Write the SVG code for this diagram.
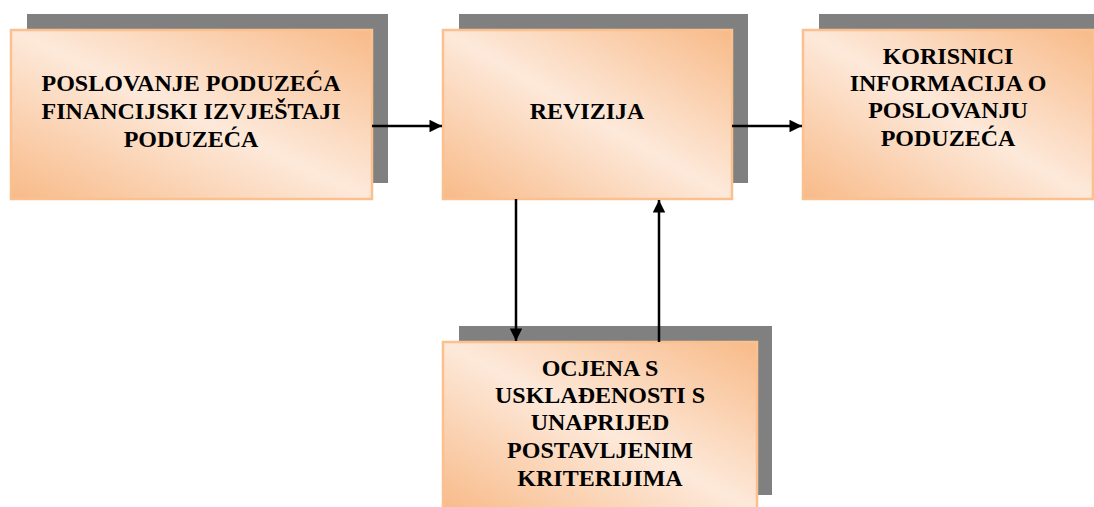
<svg xmlns="http://www.w3.org/2000/svg" width="1094" height="507" viewBox="0 0 1094 507">
<defs>
<linearGradient id="g" x1="0" y1="1" x2="1" y2="0">
<stop offset="0" stop-color="#F8BA88"/>
<stop offset="0.5" stop-color="#FDE9DA"/>
<stop offset="1" stop-color="#F8BA88"/>
</linearGradient>
<marker id="ah" viewBox="0 0 10 10" refX="10" refY="5" markerWidth="6" markerHeight="5" markerUnits="strokeWidth" orient="auto">
<path d="M0,0 L10,5 L0,10 z" fill="#000"/>
</marker>
<style>
.sh{fill:#808080}
.bx{fill:url(#g);stroke:#FAC090;stroke-width:2.5}
.t{font-family:"Times New Roman","Liberation Serif",serif;font-weight:bold;font-size:24px;fill:#000;text-anchor:middle}
.c{stroke:#000;stroke-width:2.5;fill:none;marker-end:url(#ah)}
</style>
</defs>
<g id="n1">
<rect class="sh" x="27" y="14" width="361" height="169"/>
<rect class="bx" x="11" y="30" width="361" height="169"/>
<text class="t"><tspan x="191" y="91">POSLOVANJE PODUZEĆA</tspan><tspan x="191" y="119">FINANCIJSKI IZVJEŠTAJI</tspan><tspan x="191" y="147">PODUZEĆA</tspan></text>
</g>
<g id="n2">
<rect class="sh" x="459" y="14" width="289" height="169"/>
<rect class="bx" x="443" y="30" width="289" height="169"/>
<text class="t" x="587" y="119">REVIZIJA</text>
</g>
<g id="n3">
<rect class="sh" x="819" y="14" width="280" height="169"/>
<rect class="bx" x="803" y="30" width="290" height="169"/>
<text class="t"><tspan x="948" y="64">KORISNICI</tspan><tspan x="948" y="91">INFORMACIJA O</tspan><tspan x="948" y="118">POSLOVANJU</tspan><tspan x="948" y="146">PODUZEĆA</tspan></text>
</g>
<g id="n4">
<rect class="sh" x="459" y="326" width="313" height="169"/>
<rect class="bx" x="443" y="342" width="314" height="170"/>
<text class="t"><tspan x="600" y="376">OCJENA S</tspan><tspan x="600" y="403">USKLAĐENOSTI S</tspan><tspan x="600" y="430">UNAPRIJED</tspan><tspan x="600" y="458">POSTAVLJENIM</tspan><tspan x="600" y="486">KRITERIJIMA</tspan></text>
</g>
<g id="connectors">
<line class="c" x1="372" y1="126" x2="442" y2="126"/>
<line class="c" x1="732" y1="126" x2="802" y2="126"/>
<line class="c" x1="516" y1="199" x2="516" y2="341"/>
<line class="c" x1="659" y1="342" x2="659" y2="200"/>
</g>
</svg>
